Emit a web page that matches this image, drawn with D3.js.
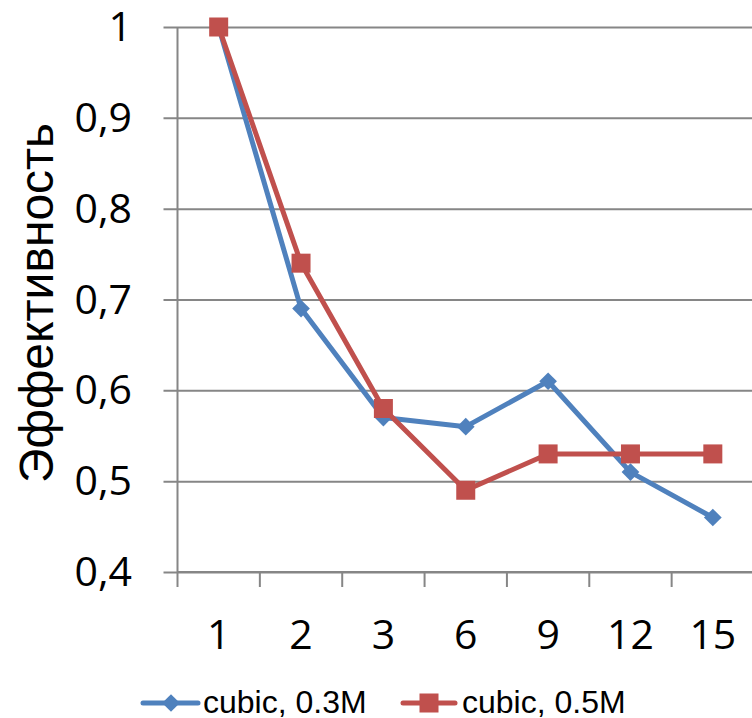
<!DOCTYPE html>
<html>
<head>
<meta charset="utf-8">
<script src="https://d3js.org/d3.v7.min.js"></script>
<style>
  body { margin: 0; background: #fff; }
  svg { display: block; }
</style>
</head>
<body>
<svg id="vis"></svg>
<script>
  // data
  var categories = ["1", "2", "3", "6", "9", "12", "15"];
  var seriesNames = ["cubic, 0.3M", "cubic, 0.5M"];
  var blueValues = [1, 0.69, 0.57, 0.56, 0.61, 0.51, 0.46];
  var redValues = [1, 0.74, 0.58, 0.49, 0.53, 0.53, 0.53];
  var yTicks = [0.4, 0.5, 0.6, 0.7, 0.8, 0.9, 1];

  var W = 752, H = 718;
  // plot area (window.top is read-only, so own names)
  var plotL = 177.5, plotR = 754, plotT = 27, plotB = 572;

  var svg = d3.select("#vis").attr("width", W).attr("height", H);

  var x = d3.scaleBand().domain(categories).range([plotL, plotR]);
  var y = d3.scaleLinear().domain([0.4, 1]).range([plotB, plotT]);

  var fmt = function(d) { return d3.format(".1~f")(d).replace(".", ","); };

  // horizontal gridlines + y ticks
  var yAxis = d3.axisLeft(y)
    .tickValues(yTicks)
    .tickSize(-(plotR - plotL))
    .tickSizeOuter(0)
    .tickFormat("");
  var gy = svg.append("g")
    .attr("transform", "translate(" + plotL + ",0)")
    .call(yAxis);
  gy.select(".domain").remove();
  gy.selectAll(".tick line")
    .attr("x1", -14)
    .attr("stroke", "#868686")
    .attr("stroke-width", 2);

  // y axis line
  svg.append("line")
    .attr("x1", plotL).attr("x2", plotL)
    .attr("y1", plotT).attr("y2", plotB)
    .attr("stroke", "#868686").attr("stroke-width", 2);

  // y tick labels
  svg.selectAll(".ylab")
    .data(yTicks)
    .enter().append("text")
    .attr("class", "ylab")
    .attr("x", 132)
    .attr("y", function(d) { return y(d) + 14; })
    .attr("text-anchor", "end")
    .attr("font-family", "Open Sans")
    .attr("font-size", 41)
    .attr("fill", "#000")
    .text(fmt);

  // x axis with ticks between categories
  var boundaries = categories.map(function(c) { return x(c); }).concat([plotR]);
  svg.append("line")
    .attr("x1", plotL).attr("x2", plotR)
    .attr("y1", plotB).attr("y2", plotB)
    .attr("stroke", "#868686").attr("stroke-width", 2);
  svg.selectAll(".xtick")
    .data(boundaries)
    .enter().append("line")
    .attr("class", "xtick")
    .attr("x1", function(d) { return d; })
    .attr("x2", function(d) { return d; })
    .attr("y1", plotB)
    .attr("y2", plotB + 15)
    .attr("stroke", "#868686").attr("stroke-width", 2);

  svg.selectAll(".xlab")
    .data(categories)
    .enter().append("text")
    .attr("class", "xlab")
    .attr("x", function(d) { return x(d) + x.bandwidth() / 2; })
    .attr("y", 649)
    .attr("text-anchor", "middle")
    .attr("font-family", "Open Sans")
    .attr("font-size", 41)
    .attr("fill", "#000")
    .text(function(d) { return d; });

  // y axis title
  svg.append("text")
    .attr("transform", "translate(53,303) rotate(-90)")
    .attr("text-anchor", "middle")
    .attr("font-family", "Liberation Sans")
    .attr("font-size", 48)
    .attr("fill", "#000")
    .text("Эффективность");

  // series
  var cx = function(i) { return x(categories[i]) + x.bandwidth() / 2; };
  var line = d3.line()
    .x(function(d, i) { return cx(i); })
    .y(function(d) { return y(d); });

  var diamond = d3.symbol().type(d3.symbolDiamond2).size(200);

  svg.append("path")
    .datum(blueValues)
    .attr("d", line)
    .attr("fill", "none")
    .attr("stroke", "#4F81BD")
    .attr("stroke-width", 5)
    .attr("stroke-linejoin", "round");
  svg.selectAll(".bpt")
    .data(blueValues)
    .enter().append("path")
    .attr("class", "bpt")
    .attr("d", diamond)
    .attr("transform", function(d, i) { return "translate(" + cx(i) + "," + y(d) + ")"; })
    .attr("fill", "#4F81BD");

  svg.append("path")
    .datum(redValues)
    .attr("d", line)
    .attr("fill", "none")
    .attr("stroke", "#C0504D")
    .attr("stroke-width", 5)
    .attr("stroke-linejoin", "round");
  svg.selectAll(".rpt")
    .data(redValues)
    .enter().append("rect")
    .attr("class", "rpt")
    .attr("x", function(d, i) { return cx(i) - 9.5; })
    .attr("y", function(d) { return y(d) - 9.5; })
    .attr("width", 19)
    .attr("height", 19)
    .attr("fill", "#C0504D");

  // legend
  var legY = 703;
  var leg1 = svg.append("g");
  leg1.append("line")
    .attr("x1", 143).attr("x2", 198).attr("y1", legY).attr("y2", legY)
    .attr("stroke", "#4F81BD").attr("stroke-width", 5).attr("stroke-linecap", "round");
  leg1.append("path")
    .attr("d", diamond)
    .attr("transform", "translate(171," + legY + ")")
    .attr("fill", "#4F81BD");
  leg1.append("text")
    .attr("x", 203).attr("y", 713)
    .attr("font-family", "Liberation Sans")
    .attr("font-size", 32)
    .attr("fill", "#000")
    .text(seriesNames[0]);

  var leg2 = svg.append("g");
  leg2.append("line")
    .attr("x1", 403).attr("x2", 455).attr("y1", legY).attr("y2", legY)
    .attr("stroke", "#C0504D").attr("stroke-width", 5).attr("stroke-linecap", "round");
  leg2.append("rect")
    .attr("x", 429 - 9.5).attr("y", legY - 9.5)
    .attr("width", 19).attr("height", 19)
    .attr("fill", "#C0504D");
  leg2.append("text")
    .attr("x", 462).attr("y", 713)
    .attr("font-family", "Liberation Sans")
    .attr("font-size", 32)
    .attr("fill", "#000")
    .text(seriesNames[1]);
</script>
</body>
</html>
